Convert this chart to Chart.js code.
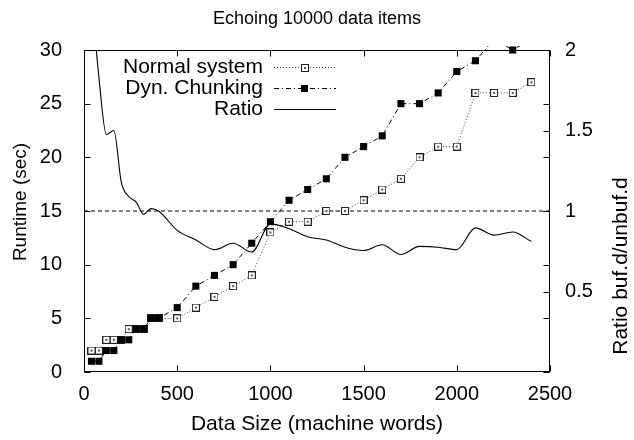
<!DOCTYPE html>
<html>
<head>
<meta charset="utf-8">
<title>Echoing 10000 data items</title>
<script src="https://cdn.jsdelivr.net/npm/chart.js@4.4.1/dist/chart.umd.min.js"></script>
<style>
  html, body { margin: 0; padding: 0; background: #fff; }
</style>
</head>
<body>
<canvas id="chart" width="634" height="440"></canvas>
<script>
// values
const dataSizes = [40, 80, 120, 160, 200, 240, 280, 320, 360, 400,
  500, 600, 700, 800, 900, 1000, 1100, 1200, 1300, 1400,
  1500, 1600, 1700, 1800, 1900, 2000, 2100, 2200, 2300, 2400];
const normalRuntime = [2, 2, 3, 3, 3, 4, 4, 4, 5, 5,
  5, 6, 7, 8, 9, 13, 14, 14, 15, 15,
  16, 17, 18, 20, 21, 21, 26, 26, 26, 27];
const dynRuntime = [1, 1, 2, 2, 3, 3, 4, 4, 5, 5,
  6, 8, 9, 10, 12, 14, 16, 17, 18, 20,
  21, 22, 25, 25, 26, 28, 29, 31, 30, 31];
const ratioValues = [2.35, 1.83, 1.475, 1.5, 1.18, 1.09, 1.055, 0.98, 1.015, 1.0,
  0.88, 0.82, 0.76, 0.8, 0.745, 0.92, 0.89, 0.84, 0.82, 0.775,
  0.755, 0.79, 0.73, 0.78, 0.775, 0.76, 0.895, 0.85, 0.87, 0.81];
const ratioBaseline = [0, 2500];
const ratioBaselineValue = [1, 1];

const seriesLabels = ['Normal system', 'Dyn. Chunking', 'Ratio'];
const chartTitle = 'Echoing 10000 data items';
const xTitle = 'Data Size (machine words)';
const yTitle = 'Runtime (sec)';
const y2Title = 'Ratio buf.d/unbuf.d';

const FONT = '"Liberation Sans", Arial, Helvetica, sans-serif';
Chart.defaults.font.family = FONT;
Chart.defaults.color = '#000';

// open square with a small dot in the middle (gnuplot style point)
function boxedDot() {
  const c = document.createElement('canvas');
  c.width = 8; c.height = 8;
  const g = c.getContext('2d');
  g.fillStyle = '#fff';
  g.fillRect(0, 0, 8, 8);
  g.strokeStyle = '#222';
  g.lineWidth = 1;
  g.strokeRect(0.5, 0.5, 7, 7);
  g.fillStyle = '#555';
  g.fillRect(3, 3, 2, 2);
  return c;
}
const openBox = boxedDot();

function pts(xs, ys) {
  return xs.map((x, i) => ({ x: x, y: ys[i] }));
}

// border, inward ticks, legend and y titles drawn like gnuplot
const gnuplotFrame = {
  id: 'gnuplotFrame',
  afterDatasetsDraw(chart) {
    const { ctx, chartArea: a, scales } = chart;
    const L = Math.round(a.left) + 0.5, R = Math.round(a.right) - 0.5;
    const T = Math.round(a.top) + 0.5, B = Math.round(a.bottom) - 0.5;
    const tl = 6;
    ctx.save();
    ctx.strokeStyle = '#000';
    ctx.lineWidth = 1;
    ctx.setLineDash([]);
    ctx.strokeRect(L, T, R - L, B - T);

    ctx.beginPath();
    scales.x.ticks.forEach(t => {
      const px = Math.round(scales.x.getPixelForValue(t.value)) + 0.5;
      ctx.moveTo(px, B); ctx.lineTo(px, B - tl);
      ctx.moveTo(px, T); ctx.lineTo(px, T + tl);
    });
    scales.y.ticks.forEach(t => {
      const py = Math.round(scales.y.getPixelForValue(t.value)) + 0.5;
      ctx.moveTo(L, py); ctx.lineTo(L + tl, py);
      ctx.moveTo(R, py); ctx.lineTo(R - tl, py);
    });
    scales.y2.ticks.forEach(t => {
      const py = Math.round(scales.y2.getPixelForValue(t.value)) + 0.5;
      ctx.moveTo(R, py); ctx.lineTo(R - tl, py);
    });
    ctx.stroke();

    // legend
    const rows = [
      { ds: chart.data.datasets[1], y: 67 },
      { ds: chart.data.datasets[0], y: 88 },
      { ds: chart.data.datasets[2], y: 109 }
    ];
    ctx.font = '21px ' + FONT;
    ctx.fillStyle = '#000';
    ctx.textAlign = 'right';
    ctx.textBaseline = 'middle';
    rows.forEach(r => {
      ctx.fillText(r.ds.label, 263, r.y);
      ctx.save();
      ctx.strokeStyle = r.ds.borderColor;
      ctx.lineWidth = r.ds.borderWidth;
      ctx.setLineDash(r.ds.borderDash || []);
      ctx.beginPath();
      ctx.moveTo(274, r.y + 0.5);
      ctx.lineTo(336, r.y + 0.5);
      ctx.stroke();
      ctx.restore();
      if (r.ds.pointRadius > 0) {
        if (r.ds.pointStyle === 'rect') {
          ctx.fillStyle = '#000';
          ctx.fillRect(301, r.y - 3, 7, 7);
        } else {
          ctx.drawImage(r.ds.pointStyle, 301, r.y - 3);
        }
      }
    });

    // rotated axis titles
    ctx.textAlign = 'center';
    ctx.textBaseline = 'middle';
    ctx.font = '19px ' + FONT;
    ctx.save();
    ctx.translate(21, 202);
    ctx.rotate(-Math.PI / 2);
    ctx.fillText(yTitle, 0, 0);
    ctx.restore();
    ctx.font = '21px ' + FONT;
    ctx.save();
    ctx.translate(621, 266);
    ctx.rotate(-Math.PI / 2);
    ctx.fillText(y2Title, 0, 0);
    ctx.restore();
    ctx.restore();
  }
};

new Chart(document.getElementById('chart'), {
  type: 'line',
  data: {
    datasets: [
      {
        label: seriesLabels[1],
        data: pts(dataSizes, dynRuntime),
        yAxisID: 'y',
        order: 1,
        borderColor: '#000',
        borderWidth: 1,
        borderDash: [5, 3, 1, 3],
        pointStyle: 'rect',
        pointRadius: 5,
        pointBackgroundColor: '#000',
        pointBorderWidth: 0,
        clip: { left: 0, top: 4, right: 0, bottom: 0 },
        tension: 0
      },
      {
        label: seriesLabels[0],
        data: pts(dataSizes, normalRuntime),
        yAxisID: 'y',
        order: 2,
        borderColor: '#444',
        borderWidth: 1,
        borderDash: [1, 2],
        pointStyle: openBox,
        pointRadius: 4,
        tension: 0
      },
      {
        label: seriesLabels[2],
        data: pts(dataSizes, ratioValues),
        yAxisID: 'y2',
        order: 3,
        borderColor: '#000',
        borderWidth: 1.1,
        pointRadius: 0,
        cubicInterpolationMode: 'monotone'
      },
      {
        label: 'ratio = 1',
        data: pts(ratioBaseline, ratioBaselineValue),
        yAxisID: 'y2',
        order: 4,
        borderColor: '#000',
        borderWidth: 1,
        borderDash: [4, 3],
        pointRadius: 0
      }
    ]
  },
  options: {
    responsive: false,
    animation: false,
    devicePixelRatio: 1,
    layout: { padding: 0 },
    scales: {
      x: {
        type: 'linear',
        min: 0,
        max: 2500,
        grid: { display: false, drawTicks: false },
        border: { display: false },
        ticks: { stepSize: 500, padding: 10, maxRotation: 0, font: { size: 20 }, callback: v => String(v) },
        title: { display: true, text: xTitle, font: { size: 21 }, padding: { top: 0, bottom: 3 } },
        afterFit(scale) { scale.height = 68; }
      },
      y: {
        position: 'left',
        min: 0,
        max: 30,
        grid: { display: false, drawTicks: false },
        border: { display: false },
        ticks: { stepSize: 5, padding: 22, font: { size: 20 }, callback: v => String(v) },
        afterFit(scale) { scale.width = 84; }
      },
      y2: {
        position: 'right',
        min: 0,
        max: 2,
        grid: { display: false, drawTicks: false },
        border: { display: false },
        ticks: {
          stepSize: 0.5,
          padding: 15,
          font: { size: 20 },
          callback: v => (v === 0 ? '' : String(v))
        },
        afterFit(scale) { scale.width = 84; }
      }
    },
    plugins: {
      legend: { display: false },
      tooltip: { enabled: false },
      title: {
        display: true,
        text: chartTitle,
        font: { size: 18, weight: 'normal' },
        padding: { top: 8, bottom: 20.4 }
      }
    }
  },
  plugins: [gnuplotFrame]
});
</script>
</body>
</html>
